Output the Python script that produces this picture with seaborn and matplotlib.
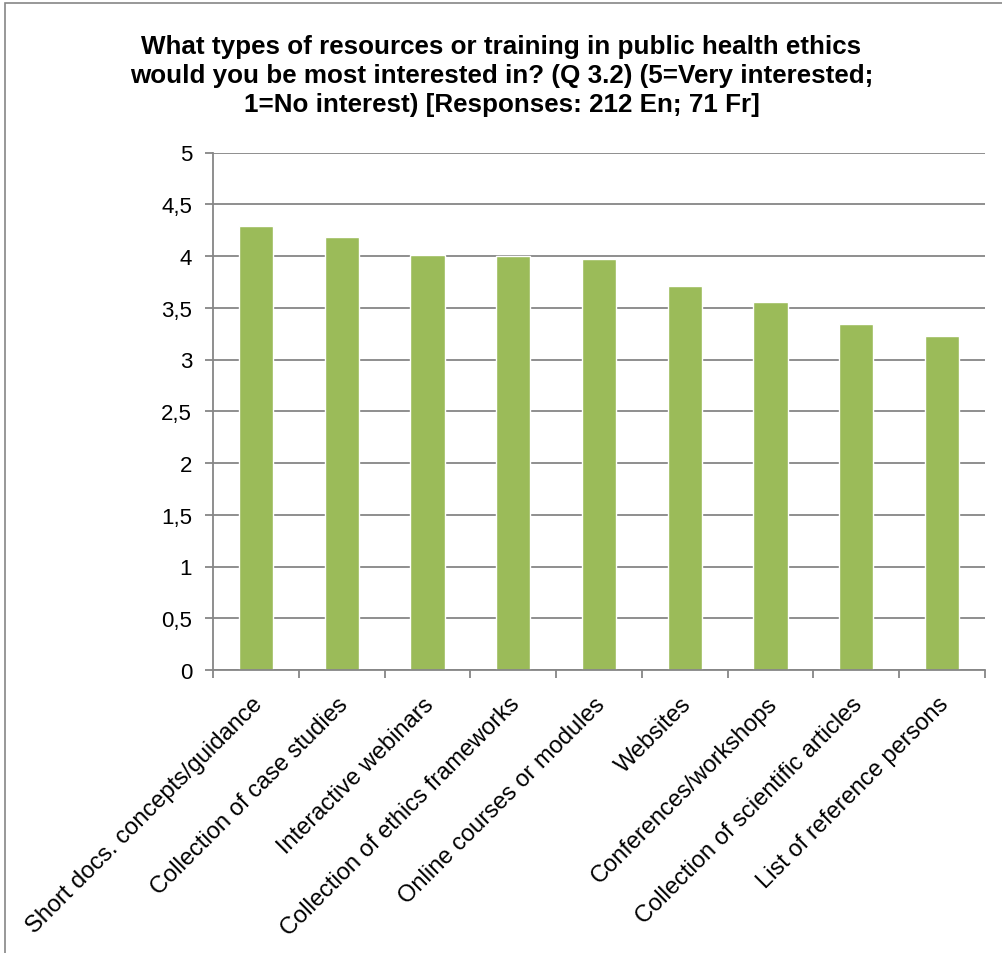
import matplotlib
matplotlib.use("Agg")
import matplotlib.pyplot as plt
import matplotlib.transforms as mtransforms
import seaborn as sns
import pandas as pd
from matplotlib.patches import Rectangle

categories = [
    "Short docs. concepts/guidance",
    "Collection of case studies",
    "Interactive webinars",
    "Collection of ethics frameworks",
    "Online courses or modules",
    "Websites",
    "Conferences/workshops",
    "Collection of scientific articles",
    "List of reference persons",
]
scores = [4.29, 4.18, 4.01, 4.00, 3.97, 3.71, 3.56, 3.34, 3.23]
y_ticks = [0, 0.5, 1, 1.5, 2, 2.5, 3, 3.5, 4, 4.5, 5]
y_tick_labels = ["0", "0,5", "1", "1,5", "2", "2,5", "3", "3,5", "4", "4,5", "5"]
title = ("What types of resources or training in public health ethics\n"
         "would you be most interested in? (Q 3.2) (5=Very interested;\n"
         "1=No interest) [Responses: 212 En; 71 Fr]")

df = pd.DataFrame({"resource": categories, "score": scores})

sns.set_theme(style="white")
plt.rcParams["font.family"] = ["Liberation Sans", "DejaVu Sans"]

W, H = 1003, 954
fig = plt.figure(figsize=(W / 100, H / 100), dpi=100)
ax = fig.add_axes([213 / W, 1 - 671 / H, (985 - 213) / W, (671 - 153.5) / H])

sns.barplot(data=df, x="resource", y="score", color="#9BBB59", width=0.40,
            saturation=1, ax=ax, zorder=3)

grey = "#868686"
ax.set_ylim(0, 5)
ax.set_xlim(-0.5, len(categories) - 0.5)
ax.set_yticks(y_ticks)
ax.set_yticklabels(y_tick_labels, fontsize=16, color="black")
ax.yaxis.grid(True, color=grey, linewidth=1.3, zorder=0)
ax.set_axisbelow(True)

# category labels at bar centres, boundary ticks between categories
ax.set_xticks(range(len(categories)))
ax.set_xticklabels(categories, rotation=45, ha="right", va="center",
                   rotation_mode="anchor", fontsize=17, color="black")
ax.tick_params(axis="x", which="major", length=0, pad=22)
shift = mtransforms.ScaledTranslation(3 / 100, 0, fig.dpi_scale_trans)
for lbl in ax.get_xticklabels():
    lbl.set_transform(lbl.get_transform() + shift)
ax.set_xticks([i - 0.5 for i in range(len(categories) + 1)], minor=True)
ax.tick_params(axis="x", which="minor", bottom=True, length=6, width=1.3,
               color=grey, direction="out")
ax.tick_params(axis="y", left=True, length=6, width=1.3, color=grey,
               direction="out", pad=9)

for side in ["top", "right"]:
    ax.spines[side].set_visible(False)
for side in ["left", "bottom"]:
    ax.spines[side].set_color(grey)
    ax.spines[side].set_linewidth(1.3)
ax.spines["bottom"].set_zorder(4)
ax.set_xlabel("")
ax.set_ylabel("")

fig.text(0.5, 1 - 76 / H, title, ha="center", va="center", fontsize=18.7,
         fontweight="bold", linespacing=1.27, color="black")

# chart-area frame
fig.patches.append(Rectangle((5 / W, -0.01), 1.1, 1 - 4 / H + 0.01,
                             transform=fig.transFigure, fill=False,
                             edgecolor=grey, linewidth=1.2))

fig.savefig("out.png", dpi=100, facecolor="white")
